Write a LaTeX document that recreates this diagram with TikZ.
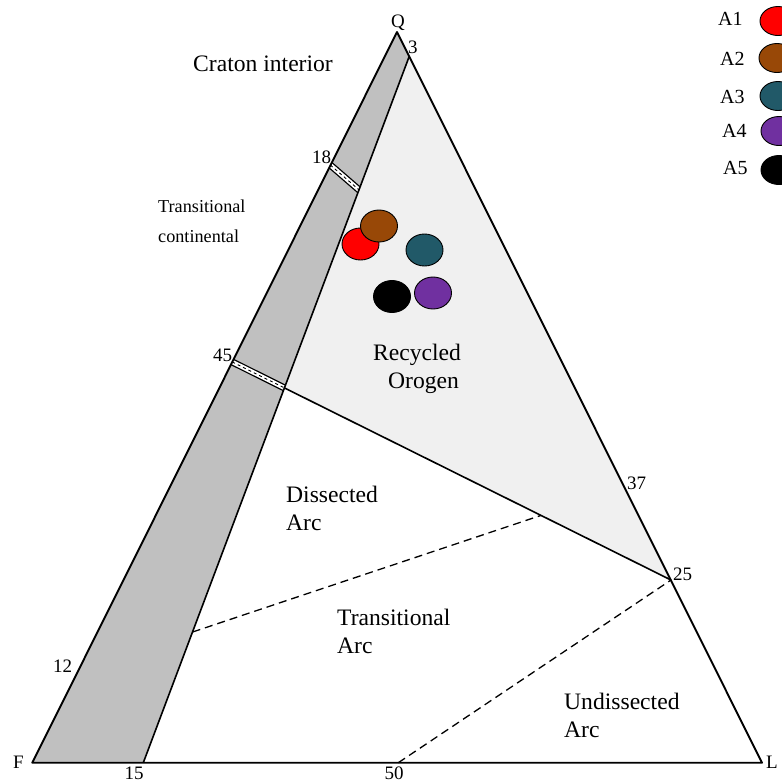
\documentclass[tikz,border=0pt]{standalone}
\usepackage{fontspec}
\setmainfont{Liberation Serif}
\usetikzlibrary{calc,shapes.geometric}
\definecolor{band}{RGB}{192,192,192}
\definecolor{orogen}{RGB}{240,240,240}
\definecolor{cA1}{RGB}{255,0,0}
\definecolor{cA2}{RGB}{152,72,7}
\definecolor{cA3}{RGB}{33,89,104}
\definecolor{cA4}{RGB}{112,48,160}
\definecolor{cA5}{RGB}{0,0,0}
\begin{document}
\begin{tikzpicture}[x=1pt,y=-1pt,
  edge/.style={line width=1.9pt,line join=round},
  inner/.style={line width=1.6pt},
  dashline/.style={line width=1.3pt,dash pattern=on 8pt off 5pt},
  field/.style={anchor=base west,inner sep=0pt,font=\fontsize{23.6}{28}\selectfont},
  smallfield/.style={anchor=base west,inner sep=0pt,font=\fontsize{18.2}{22}\selectfont},
  tick/.style={anchor=base west,inner sep=0pt,font=\fontsize{19}{22}\selectfont},
  tickc/.style={anchor=base,inner sep=0pt,font=\fontsize{19}{22}\selectfont},
  legtext/.style={anchor=base west,inner sep=0pt,font=\fontsize{20}{22}\selectfont},
  dot/.style={draw=black,line width=0.9pt,ellipse,minimum width=37pt,minimum height=32pt,inner sep=0pt},
  legdot/.style={draw=black,line width=0.9pt,ellipse,minimum width=36pt,minimum height=29pt,inner sep=0pt}]
\useasboundingbox (0,0) rectangle (782,782);
\fill[white] (0,0) rectangle (782,782);
% corner points
\coordinate (F) at (32.3,762.7);
\coordinate (Q) at (397,32);
\coordinate (L) at (762,762.7);
\coordinate (P3) at (409,57);
\coordinate (P15) at (143.3,762.7);
\coordinate (P18) at (330.3,165);
\coordinate (P18i) at (359.2,190);
\coordinate (P45) at (232.3,362);
\coordinate (P45i) at (284.6,388);
\coordinate (P25) at (671,580);
\coordinate (P50) at (398.3,762.7);
\coordinate (D1) at (192.6,632);
\coordinate (D2) at (541,515.4);
% fills
\fill[band] (F) -- (Q) -- (P3) -- (P15) -- cycle;
\fill[orogen] (P3) -- (P45i) -- (P25) -- cycle;
% white double marks at 18 and 45
\begin{scope}
  \clip (F) -- (Q) -- (P3) -- (P15) -- cycle;
  \draw[line width=7pt,black] (P18) -- (P18i);
  \draw[line width=4.4pt,white] (P18) -- (P18i);
  \draw[line width=0.9pt,black,dash pattern=on 3pt off 3pt] (P18) -- (P18i);
  \draw[line width=7pt,black] (P45) -- (P45i);
  \draw[line width=4.4pt,white] (P45) -- (P45i);
  \draw[line width=0.9pt,black,dash pattern=on 3pt off 3pt] (P45) -- (P45i);
\end{scope}
% lines
\draw[edge] (F) -- (Q) -- (L) -- cycle;
\draw[inner] (P15) -- (P3);
\draw[inner] (P45i) -- (P25);
\draw[dashline] (D1) -- (D2);
\draw[dashline] (P50) -- (P25);
% sample dots
\node[dot,fill=cA1] (s1) at (360.5,244) {};
\node[dot,fill=cA2] (s2) at (379,226) {};
\node[dot,fill=cA3] (s3) at (424.5,250) {};
\node[dot,fill=cA5] (s5) at (392,296.5) {};
\node[dot,fill=cA4] (s4) at (433,293) {};
% legend
\node[legtext] (tA1) at (718,25) {A1};
\node[legtext] (tA2) at (720,65) {A2};
\node[legtext] (tA3) at (720,103) {A3};
\node[legtext] (tA4) at (722,137) {A4};
\node[legtext] (tA5) at (723,174) {A5};
\node[legdot,fill=cA1] (l1) at (778,21) {};
\node[legdot,fill=cA2] (l2) at (777,58) {};
\node[legdot,fill=cA3] (l3) at (778,96) {};
\node[legdot,fill=cA4] (l4) at (779,131) {};
\node[legdot,fill=cA5] (l5) at (779,170) {};
% tick labels
\node[tickc] (tQ) at (398,27) {Q};
\node[tick] (t3) at (408,53) {3};
\node[tick] (t18) at (312,163) {18};
\node[tick] (t45) at (213,361) {45};
\node[tick] (t12) at (53,672) {12};
\node[tick] (tF) at (13,768) {F};
\node[tickc] (t15) at (134,779) {15};
\node[tickc] (t50) at (394,779) {50};
\node[tick] (tL) at (766,768) {L};
\node[tick] (t37) at (627,489) {37};
\node[tick] (t25) at (673,580) {25};
% field labels
\node[field] (ci) at (193,71) {Craton interior};
\node[smallfield] (tc1) at (158,212) {Transitional};
\node[smallfield] (tc2) at (158,242) {continental};
\node[field] (ro1) at (373,360) {Recycled};
\node[field] (ro2) at (388,388) {Orogen};
\node[field] (da1) at (286,502) {Dissected};
\node[field] (da2) at (286,530) {Arc};
\node[field] (ta1) at (337,625) {Transitional};
\node[field] (ta2) at (337,653) {Arc};
\node[field] (ua1) at (564,709) {Undissected};
\node[field] (ua2) at (564,737) {Arc};
\end{tikzpicture}
\end{document}
